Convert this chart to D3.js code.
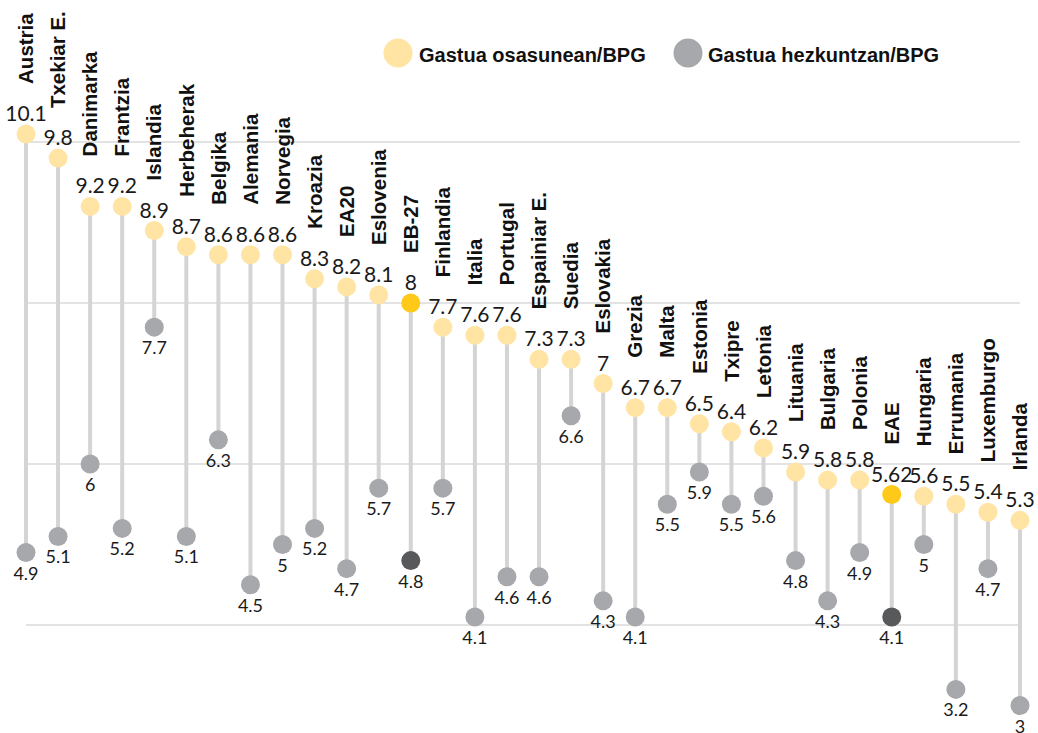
<!DOCTYPE html>
<html>
<head>
<meta charset="utf-8">
<script src="https://cdn.jsdelivr.net/npm/d3@7"></script>
<style>
  html, body { margin: 0; padding: 0; background: #fff; }
  svg { display: block; }
</style>
</head>
<body>
<svg id="chart" width="1038" height="733"></svg>
<script>
const countries = ["Austria","Txekiar E.","Danimarka","Frantzia","Islandia","Herbeherak","Belgika","Alemania","Norvegia","Kroazia","EA20","Eslovenia","EB-27","Finlandia","Italia","Portugal","Espainiar E.","Suedia","Eslovakia","Grezia","Malta","Estonia","Txipre","Letonia","Lituania","Bulgaria","Polonia","EAE","Hungaria","Errumania","Luxemburgo","Irlanda"];
const health = [10.1,9.8,9.2,9.2,8.9,8.7,8.6,8.6,8.6,8.3,8.2,8.1,8,7.7,7.6,7.6,7.3,7.3,7,6.7,6.7,6.5,6.4,6.2,5.9,5.8,5.8,5.62,5.6,5.5,5.4,5.3];
const education = [4.9,5.1,6,5.2,7.7,5.1,6.3,4.5,5,5.2,4.7,5.7,4.8,5.7,4.1,4.6,4.6,6.6,4.3,4.1,5.5,5.9,5.5,5.6,4.8,4.3,4.9,4.1,5,3.2,4.7,3];
const highlighted = ["EB-27","EAE"];
const gridValues = [4,6,8,10];
const seriesNames = ["Gastua osasunean/BPG","Gastua hezkuntzan/BPG"];

const colors = {
  health: "#FFE4A3", healthHi: "#FFC91A",
  edu: "#A7A8AC", eduHi: "#58595B",
  stem: "#D4D4D4", grid: "#DADADA"
};

const svg = d3.select("#chart");
const x = d3.scalePoint().domain(countries).range([26, 1020]);
const y = d3.scaleLinear().domain([4, 10]).range([625, 142]);

const data = countries.map((c, i) => ({c, h: health[i], e: education[i], hi: highlighted.includes(c)}));

// gridlines
svg.append("g").selectAll("line").data(gridValues).join("line")
  .attr("x1", 26).attr("x2", 1020)
  .attr("y1", d => y(d)).attr("y2", d => y(d))
  .attr("stroke", colors.grid).attr("stroke-width", 1.6);

// stems
svg.append("g").selectAll("line").data(data).join("line")
  .attr("x1", d => x(d.c)).attr("x2", d => x(d.c))
  .attr("y1", d => y(d.h)).attr("y2", d => y(d.e))
  .attr("stroke", colors.stem).attr("stroke-width", 4);

const r = 9.5;
// education dots
svg.append("g").selectAll("circle").data(data).join("circle")
  .attr("cx", d => x(d.c)).attr("cy", d => y(d.e)).attr("r", r)
  .attr("fill", d => d.hi ? colors.eduHi : colors.edu);
// health dots
svg.append("g").selectAll("circle").data(data).join("circle")
  .attr("cx", d => x(d.c)).attr("cy", d => y(d.h)).attr("r", r)
  .attr("fill", d => d.hi ? colors.healthHi : colors.health);

const numFont = "Lato, 'Open Sans', sans-serif";
// health values
svg.append("g").selectAll("text").data(data).join("text")
  .attr("x", d => x(d.c)).attr("y", d => y(d.h) - 13)
  .attr("text-anchor", "middle")
  .attr("font-family", numFont).attr("font-size", 21)
  .attr("fill", "#1a1a1a")
  .text(d => String(d.h));
// education values
svg.append("g").selectAll("text").data(data).join("text")
  .attr("x", d => x(d.c)).attr("y", d => y(d.e) + 27)
  .attr("text-anchor", "middle")
  .attr("font-family", numFont).attr("font-size", 18)
  .attr("fill", "#1a1a1a")
  .text(d => String(d.e));

// country labels
svg.append("g").selectAll("text").data(data).join("text")
  .attr("transform", d => `translate(${x(d.c)},${y(d.h) - 50}) rotate(-90)`)
  .attr("dy", "0.35em")
  .attr("text-anchor", "start")
  .attr("font-family", "'Liberation Sans', Arial, sans-serif")
  .attr("font-weight", "bold").attr("font-size", 20.5)
  .attr("fill", "#111")
  .text(d => d.c);

// legend
const legend = svg.append("g");
const legItems = [
  {name: seriesNames[0], color: colors.health, cx: 398, tx: 419},
  {name: seriesNames[1], color: colors.edu, cx: 688, tx: 708}
];
legItems.forEach(it => {
  legend.append("circle").attr("cx", it.cx).attr("cy", 53).attr("r", 14.5).attr("fill", it.color);
  legend.append("text").attr("x", it.tx).attr("y", 62)
    .attr("font-family", "'Liberation Sans', Arial, sans-serif")
    .attr("font-weight", "bold").attr("font-size", 20)
    .attr("fill", "#111").text(it.name);
});
</script>
</body>
</html>
